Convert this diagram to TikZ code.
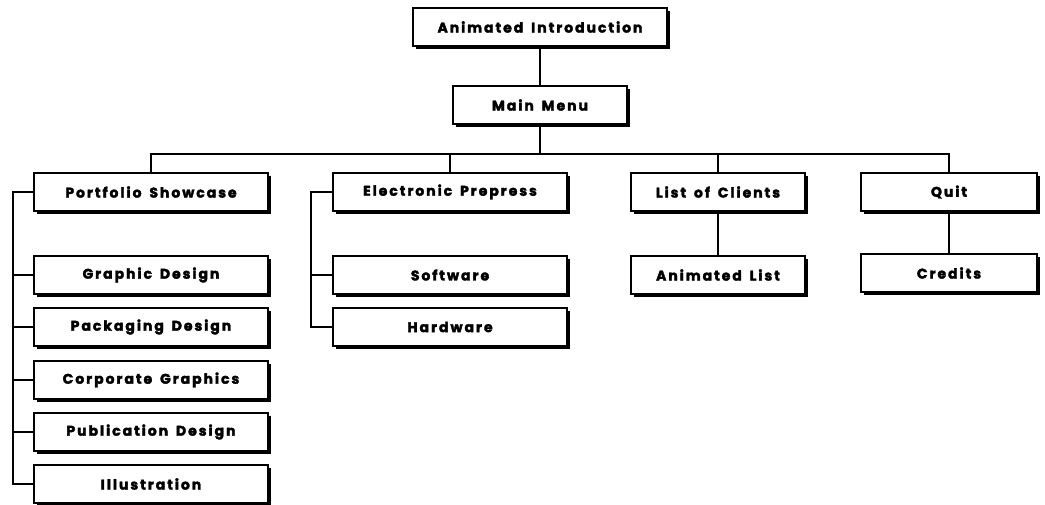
\documentclass[tikz,border=0pt]{standalone}
\usepackage{fontspec}
\setmainfont{Poppins}
\newfontfamily\boxfont{Poppins}[LetterSpace=14, BoldFeatures={FakeBold=2.5}, WordSpace=1.6]
\usetikzlibrary{shadows}
\begin{document}
\begin{tikzpicture}[x=0.75pt,y=-0.75pt,
  box/.style={draw=black, line width=1pt, fill=white, minimum height=28.5pt,
    inner sep=0pt, font=\boxfont\bfseries\fontsize{10.5}{11}\selectfont,
    drop shadow={opacity=1, fill=black, shadow xshift=2.4pt, shadow yshift=-2.4pt}},
  bw/.style={box, minimum width=#1*0.75pt},
  conn/.style={line width=1pt}]
\useasboundingbox (0,0) rectangle (1045,505);
\node[bw=254] (intro) at (540,27) {Animated Introduction};
\node[bw=174] (menu) at (540,105) {Main Menu};
\node[bw=234] (port) at (151,192) {Portfolio Showcase};
\node[bw=234] (elec) at (450,192) {Electronic Prepress};
\node[bw=174] (list) at (718,192) {List of Clients};
\node[bw=176] (quit) at (949,192) {Quit};
\node[bw=234] (graphic) at (151,275) {Graphic Design};
\node[bw=234] (pack) at (151,327) {Packaging Design};
\node[bw=234] (corp) at (151,380) {Corporate Graphics};
\node[bw=234] (pub) at (151,432) {Publication Design};
\node[bw=234] (illus) at (151,484) {Illustration};
\node[bw=234] (soft) at (450,275) {Software};
\node[bw=234] (hard) at (450,327) {Hardware};
\node[bw=174] (alist) at (718,275) {Animated List};
\node[bw=176] (cred) at (949,273) {Credits};
\coordinate (bar) at (540,154);
\coordinate (lb) at (13,0);
\coordinate (eb) at (311,0);
\draw[conn] (intro.south) -- (menu.north);
\draw[conn] (menu.south) -- (bar);
\draw[conn] (port.north) -- (port.north |- bar) -- (quit.north |- bar) -- (quit.north);
\draw[conn] (elec.north) -- (elec.north |- bar);
\draw[conn] (list.north) -- (list.north |- bar);
\draw[conn] (list.south) -- (alist.north);
\draw[conn] (quit.south) -- (cred.north);
\draw[conn] (port.west) -- (port.west -| lb) -- (illus.west -| lb) -- (illus.west);
\foreach \n in {graphic,pack,corp,pub}{\draw[conn] (\n.west) -- (\n.west -| lb);}
\draw[conn] (elec.west) -- (elec.west -| eb) -- (hard.west -| eb) -- (hard.west);
\draw[conn] (soft.west) -- (soft.west -| eb);
\end{tikzpicture}
\end{document}
